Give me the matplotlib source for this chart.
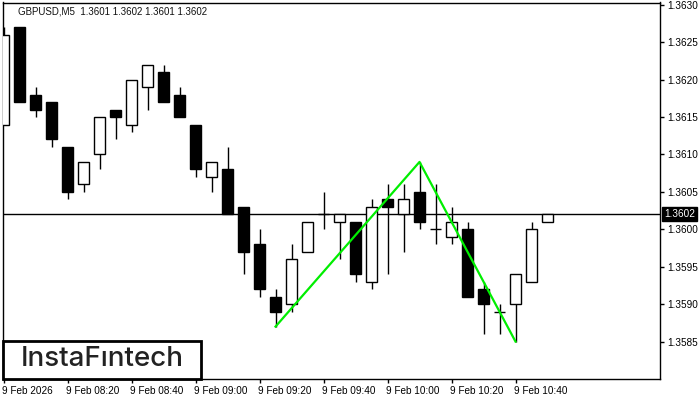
import matplotlib.pyplot as plt
import matplotlib.transforms as mtransforms
from matplotlib.patches import Rectangle

plt.rcParams['font.family'] = ['Liberation Sans', 'DejaVu Sans']

# 5-minute candles, 9 Feb 2026 08:00 .. 10:50
opens = [1.3614, 1.3627, 1.3618, 1.3617, 1.3611, 1.3606, 1.3610, 1.3616, 1.3614, 1.3619,
         1.3621, 1.3618, 1.3614, 1.3607, 1.3608, 1.3603, 1.3598, 1.3591, 1.3590, 1.3597,
         1.3602, 1.3601, 1.3601, 1.3593, 1.3604, 1.3602, 1.3605, 1.3600, 1.3599, 1.3600,
         1.3592, 1.3589, 1.3590, 1.3593, 1.3601]
highs = [1.3627, 1.3627, 1.3619, 1.3617, 1.3611, 1.3609, 1.3615, 1.3616, 1.3620, 1.3622,
         1.3622, 1.3619, 1.3614, 1.3609, 1.3611, 1.3603, 1.3600, 1.3592, 1.3598, 1.3601,
         1.3605, 1.3602, 1.3601, 1.3604, 1.3606, 1.3606, 1.3609, 1.3606, 1.3603, 1.3601,
         1.3593, 1.3590, 1.3594, 1.3601, 1.3602]
lows = [1.3614, 1.3617, 1.3615, 1.3611, 1.3604, 1.3605, 1.3608, 1.3612, 1.3613, 1.3616,
        1.3617, 1.3615, 1.3607, 1.3605, 1.3602, 1.3594, 1.3591, 1.3587, 1.3589, 1.3597,
        1.3600, 1.3596, 1.3593, 1.3592, 1.3594, 1.3597, 1.3600, 1.3598, 1.3598, 1.3591,
        1.3586, 1.3586, 1.3585, 1.3593, 1.3601]
closes = [1.3626, 1.3617, 1.3616, 1.3612, 1.3605, 1.3609, 1.3615, 1.3615, 1.3620, 1.3622,
          1.3617, 1.3615, 1.3608, 1.3609, 1.3602, 1.3597, 1.3592, 1.3589, 1.3596, 1.3601,
          1.3602, 1.3602, 1.3594, 1.3603, 1.3603, 1.3604, 1.3601, 1.3600, 1.3601, 1.3591,
          1.3590, 1.3589, 1.3594, 1.3600, 1.3602]

# double top pattern: bottom, peak, bottom (candle index, price)
pattern_idx = [17, 26, 32]
pattern_px = [1.3587, 1.3609, 1.3585]

last_price = 1.3602
tick_idx = [0, 4, 8, 12, 16, 20, 24, 28, 32]
tick_labels = ["9 Feb 2026", "9 Feb 08:20", "9 Feb 08:40", "9 Feb 09:00", "9 Feb 09:20",
               "9 Feb 09:40", "9 Feb 10:00", "9 Feb 10:20", "9 Feb 10:40"]
price_ticks = [1.3585, 1.3590, 1.3595, 1.3600, 1.3605, 1.3610, 1.3615, 1.3620, 1.3625, 1.3630]

fig = plt.figure(figsize=(7, 4), dpi=100)
ax = fig.add_axes([2.5 / 700, 1 - 379 / 400, 657.5 / 700, 376.5 / 400])

xs = list(range(len(opens)))
ax.vlines(xs, lows, highs, color="black", linewidth=1, zorder=2)
for i in xs:
    o, c = opens[i], closes[i]
    bottom = min(o, c)
    h = abs(c - o)
    if h < 0.00002:
        ax.hlines(o, i - 0.33, i + 0.33, color="black", linewidth=1, zorder=3)
        continue
    face = "white" if c > o else "black"
    ax.bar(i, h, bottom=bottom, width=0.66, color=face, edgecolor="black",
           linewidth=1, zorder=3)

ax.axhline(last_price, color="black", linewidth=1, zorder=1)
ax.plot(pattern_idx, pattern_px, color="#00ee00", linewidth=1.6, zorder=4)

ax.set_xlim(-0.0625, 41.03)
ax.set_ylim(1.3580, 1.36303)

ax.yaxis.tick_right()
ax.set_yticks(price_ticks, [f"{p:.4f}" for p in price_ticks])
ax.set_xticks(tick_idx, tick_labels)
ax.tick_params(axis="both", direction="out", length=3, width=1, labelsize=7.2,
               colors="black", pad=2)
off = mtransforms.ScaledTranslation(-2 / 100, 0, fig.dpi_scale_trans)
for lab in ax.get_xticklabels():
    lab.set_ha("left")
    lab.set_transform(lab.get_transform() + off)
for sp in ax.spines.values():
    sp.set_linewidth(1)

# current price label
ax.annotate(f"{last_price:.4f}", xy=(1.0, last_price), xycoords=("axes fraction", "data"),
            xytext=(3, 0), textcoords="offset points", ha="left", va="center",
            fontsize=7.2, color="white",
            bbox=dict(boxstyle="square,pad=0.2", fc="black", ec="black"))

fig.text(18 / 700, 1 - 11 / 400, "GBPUSD,M5  1.3601 1.3602 1.3601 1.3602",
         fontsize=7, color="#111111", va="center", ha="left")

# logo
fig.patches.append(Rectangle((3 / 700, 1 - 379 / 400), 198 / 700, 38 / 400,
                             transform=fig.transFigure, fc="white", ec="black",
                             linewidth=2, zorder=10))
fig.text(102 / 700, 1 - 359.5 / 400, "InstaFıntech", fontsize=20, family="Inter",
         fontweight="medium", color="#222222", ha="center", va="center", zorder=11)

fig.savefig("out.png", dpi=100)
